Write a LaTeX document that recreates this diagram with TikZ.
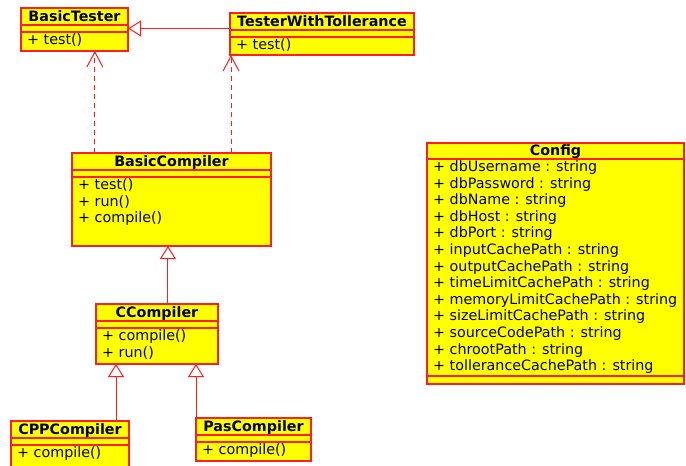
\documentclass[tikz,border=0pt]{standalone}
\usepackage{fontspec}
\setmainfont{DejaVu Sans}
\usetikzlibrary{positioning,arrows.meta,calc}
\definecolor{umlred}{RGB}{255,30,30}
\definecolor{umlyellow}{RGB}{255,255,0}
\newcommand\umlfont{\fontsize{14.3pt}{16.6pt}\selectfont}
\tikzset{
  box/.style={draw=umlred, fill=umlyellow, line width=1.2pt, outer sep=0pt, inner sep=0pt},
  head/.style={box, anchor=north west, minimum height=17pt, text height=11.5pt, text depth=2pt, font=\umlfont\bfseries},
  band/.style={box, minimum height=7pt},
  lines/.style={anchor=north west, align=left, inner xsep=6pt, inner ysep=1.5pt, font=\umlfont},
  extends/.style={draw=umlred, line width=1pt, -{Triangle[open, length=13pt, width=16pt]}},
  realizes/.style={draw=umlred, line width=1pt, dash pattern=on 5pt off 4pt, -{Straight Barb[length=15pt, width=16pt]}}
}
\begin{document}
\begin{tikzpicture}[x=1pt, y=-1pt]
\useasboundingbox[fill=white] (0,0) rectangle (686,466);
% class heads
\foreach \id/\x/\y/\w/\name in {bt/21/8/107/BasicTester,
	twt/230/13/184/TesterWithTollerance, bc/72/153/199/BasicCompiler,
	cc/96/304/122/CCompiler, cpp/11/421/118/CPPCompiler,
	pas/196/418/115/PasCompiler}
	\node[head, minimum width=\w] (\id) at (\x,\y) {\name};
% empty attribute bands and operations
\foreach \id/\w/\h/\ops in {bt/107/19/{+ test()}, twt/184/18/{+ test()},
	bc/199/69/{+ test()\\+ run()\\+ compile()},
	cc/122/36/{+ compile()\\+ run()}, cpp/118/26/{+ compile()},
	pas/115/19/{+ compile()}}
{
	\node[band, minimum width=\w, below=0pt of \id] (\id-a) {};
	\node[box, minimum width=\w, minimum height=\h, below=0pt of \id-a] (\id-o) {};
	\node[lines] (\id-t) at (\id-o.north west) {\ops};
}
% Config
\node[head, minimum width=257, minimum height=16] (cfg) at (427,143) {Config};
\node[box, minimum width=257, minimum height=217, below=0pt of cfg] (cfg-a) {};
\node[band, minimum width=257, minimum height=8, below=0pt of cfg-a] (cfg-o) {};
\node[lines] (cfg-t) at (cfg-a.north west) {+ dbUsername : string\\
	+ dbPassword : string\\+ dbName : string\\+ dbHost : string\\
	+ dbPort : string\\+ inputCachePath : string\\
	+ outputCachePath : string\\+ timeLimitCachePath : string\\
	+ memoryLimitCachePath : string\\+ sizeLimitCachePath : string\\
	+ sourceCodePath : string\\+ chrootPath : string\\
	+ tolleranceCachePath : string};
% connectors
\coordinate (bt-in) at ($(bt-o.south west)!0.69!(bt-o.south east)$);
\coordinate (twt-in) at ($(twt-o.south west)+(1,0)$);
\coordinate (bc-in) at ($(bc-o.south west)!0.482!(bc-o.south east)$);
\coordinate (cc-in) at ($(cc-o.south west)!0.164!(cc-o.south east)$);
\draw[extends] (twt-a.west |- bt-a.east) -- (bt-a.east);
\draw[realizes] (bc.north -| bt-in) -- (bt-in);
\draw[realizes] (bc.north -| twt-in) -- (twt-in);
\draw[extends] (cc.north -| bc-in) -- (bc-in);
\draw[extends] (cpp.north -| cc-in) -- (cc-in);
\draw[extends] (pas.north west) -- (pas.north west |- cc-o.south);
\end{tikzpicture}
\end{document}
